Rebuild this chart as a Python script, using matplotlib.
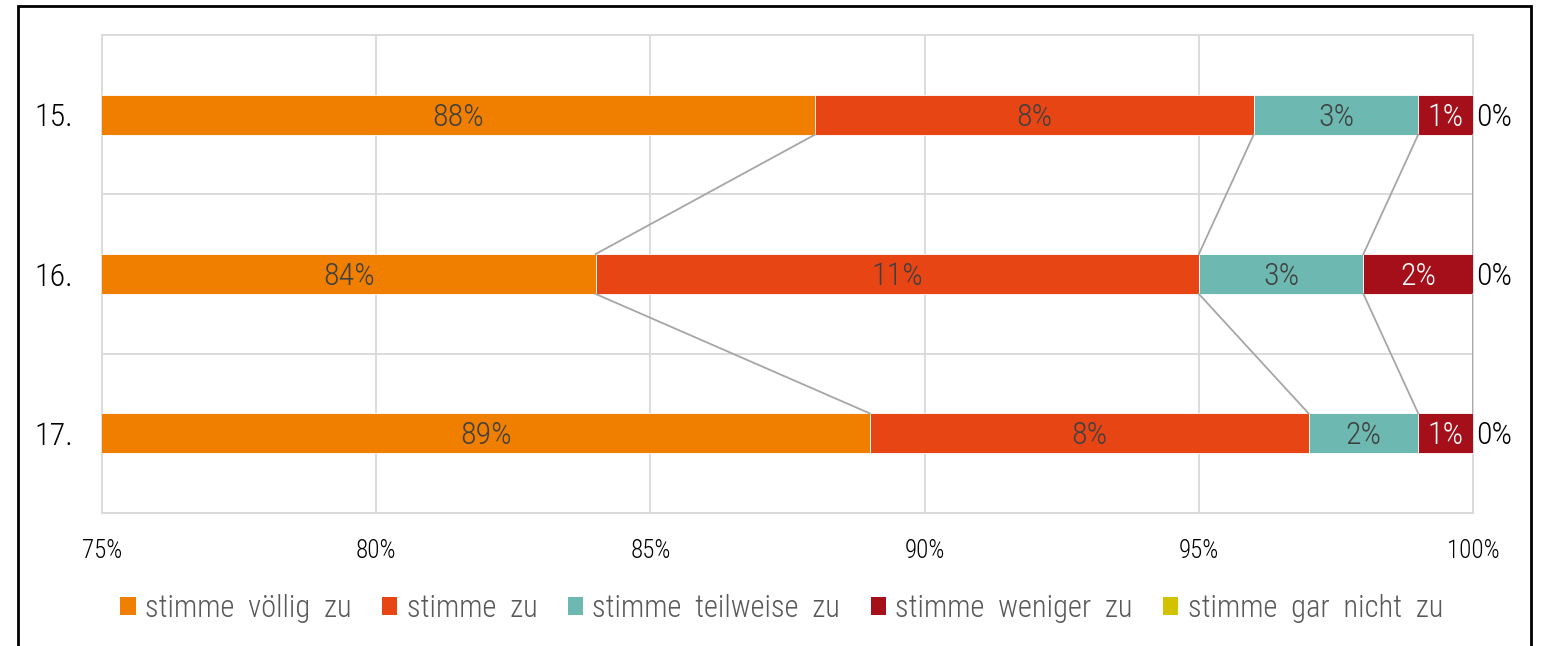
import matplotlib.pyplot as plt
from matplotlib.patches import Patch, Rectangle

plt.rcParams['font.family'] = ['Roboto Condensed', 'Liberation Sans Narrow', 'DejaVu Sans']
plt.rcParams['font.stretch'] = 'condensed'
plt.rcParams['font.weight'] = 'light'

# Daten
categories = ['15.', '16.', '17.']
series_names = ['stimme  völlig  zu', 'stimme  zu', 'stimme  teilweise  zu',
                'stimme  weniger  zu', 'stimme  gar  nicht  zu']
values = [
    [88, 84, 89],   # stimme völlig zu
    [8, 11, 8],     # stimme zu
    [3, 3, 2],      # stimme teilweise zu
    [1, 2, 1],      # stimme weniger zu
    [0, 0, 0],      # stimme gar nicht zu
]
colors = ['#F07F00', '#E84515', '#6DB8B0', '#A50F1A', '#D2C200']
label_colors = ['#404040', '#404040', '#404040', 'white', 'black']
xticks = [75, 80, 85, 90, 95, 100]

fig = plt.figure(figsize=(15.48, 6.46), dpi=100)
ax = fig.add_axes([0.0659, 0.2059, 0.8857, 0.7399])

y = list(range(len(categories)))
bar_h = 0.25
lefts = [0] * len(categories)
ends = []
for i, vals in enumerate(values):
    ax.barh(y, vals, left=lefts, height=bar_h, color=colors[i],
            edgecolor='white', linewidth=0.6, zorder=3)
    for j, v in enumerate(vals):
        start = max(lefts[j], 75)
        end = lefts[j] + v
        if v > 0:
            ax.text((start + end) / 2, y[j] + 0.015, f'{v}%', ha='center', va='center',
                    fontsize=23, color=label_colors[i], zorder=5)
        else:
            ax.text(end + 0.05, y[j] + 0.015, f'{v}%', ha='left', va='center',
                    fontsize=23, color=label_colors[i], zorder=5, clip_on=False)
    lefts = [l + v for l, v in zip(lefts, vals)]
    ends.append(list(lefts))

# Verbindungslinien zwischen den Balken
for e in ends[:-1]:
    for j in range(len(categories) - 1):
        ax.plot([e[j], e[j + 1]], [y[j] + bar_h / 2, y[j + 1] - bar_h / 2],
                color='#A6A6A6', linewidth=1.3, zorder=4)

ax.set_xlim(75, 100)
ax.set_ylim(len(categories) - 0.5, -0.5)
ax.set_xticks(xticks)
ax.set_xticklabels([f'{t}%' for t in xticks], fontsize=18)
ax.set_yticks(y)
ax.set_yticklabels(categories, fontsize=23, color='black')
ax.tick_params(axis='x', length=0, pad=19)
ax.tick_params(axis='y', length=0, pad=21)
ax.set_yticks([-0.5, 0.5, 1.5, 2.5], minor=True)
ax.grid(True, axis='x', color='#D9D9D9', linewidth=1.3, zorder=0)
ax.grid(True, axis='y', which='minor', color='#D9D9D9', linewidth=1.3, zorder=0)
ax.tick_params(which='minor', length=0)
for s in ax.spines.values():
    s.set_color('#D9D9D9')
    s.set_linewidth(1.3)

handles = [Patch(facecolor=c, edgecolor='none') for c in colors]
leg = fig.legend(handles, series_names, loc='center', bbox_to_anchor=(0.505, 0.058),
                 ncol=5, frameon=False, fontsize=22, handlelength=0.5, handleheight=0.5,
                 handletextpad=0.3, columnspacing=1.0)
for t in leg.get_texts():
    t.set_color('#595959')

# Rahmen
fig.patches.append(Rectangle((18 / 1548, -0.1), (1531 - 18) / 1548, 1 - 6 / 646 + 0.1,
                             transform=fig.transFigure, fill=False, edgecolor='black',
                             linewidth=2))

fig.savefig('out.png', dpi=100)
